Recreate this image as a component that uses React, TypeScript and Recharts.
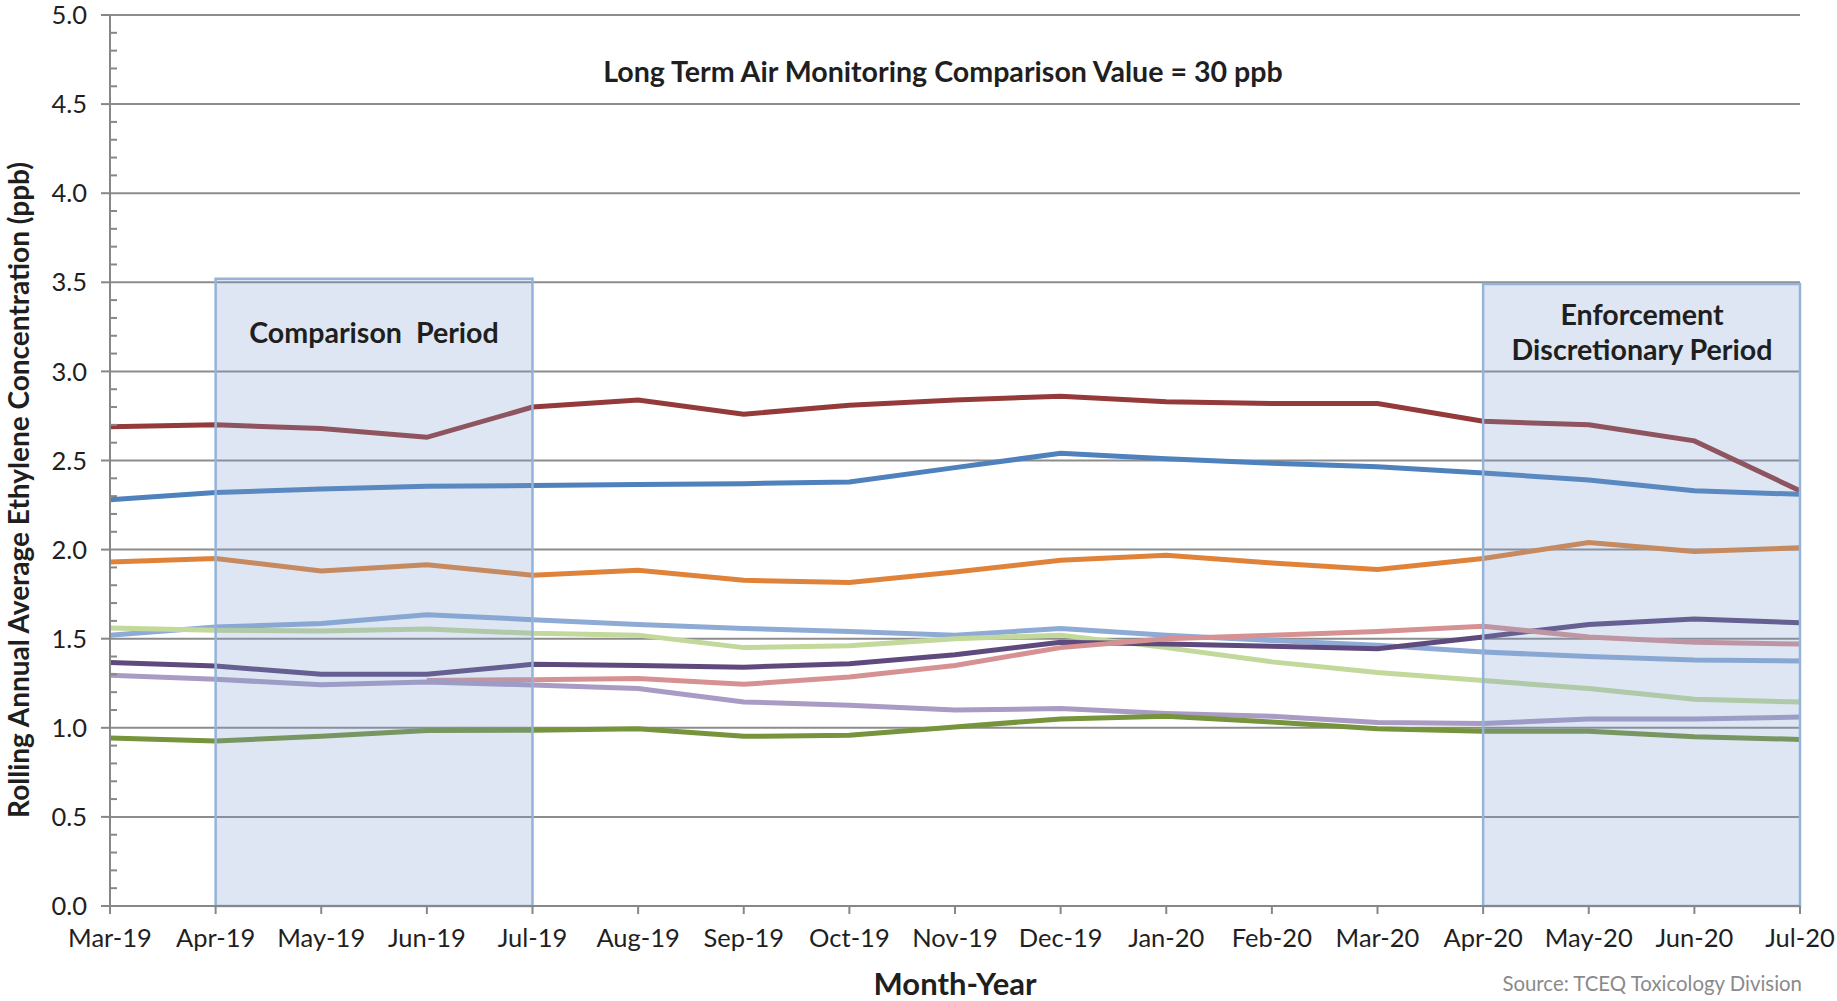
import React from 'react';
import { LineChart, Line, XAxis, YAxis, ReferenceLine, ReferenceArea } from 'recharts';

const months = ["Mar-19","Apr-19","May-19","Jun-19","Jul-19","Aug-19","Sep-19","Oct-19","Nov-19","Dec-19","Jan-20","Feb-20","Mar-20","Apr-20","May-20","Jun-20","Jul-20"];

const darkRed = [2.69, 2.70, 2.68, 2.63, 2.80, 2.84, 2.76, 2.81, 2.84, 2.86, 2.83, 2.82, 2.82, 2.72, 2.70, 2.61, 2.33];
const blue = [2.28, 2.32, 2.34, 2.355, 2.36, 2.365, 2.37, 2.38, 2.46, 2.54, 2.51, 2.485, 2.465, 2.43, 2.39, 2.33, 2.31];
const orange = [1.93, 1.95, 1.88, 1.915, 1.856, 1.884, 1.828, 1.815, 1.874, 1.94, 1.968, 1.925, 1.888, 1.95, 2.04, 1.99, 2.01];
const lightBlue = [1.52, 1.566, 1.585, 1.635, 1.607, 1.58, 1.557, 1.54, 1.52, 1.557, 1.52, 1.49, 1.463, 1.425, 1.40, 1.38, 1.375];
const lightGreen = [1.56, 1.547, 1.543, 1.555, 1.53, 1.52, 1.45, 1.46, 1.50, 1.52, 1.45, 1.37, 1.31, 1.265, 1.22, 1.16, 1.145];
const darkPurple = [1.366, 1.347, 1.30, 1.30, 1.356, 1.35, 1.34, 1.36, 1.41, 1.48, 1.47, 1.457, 1.444, 1.51, 1.58, 1.61, 1.59];
const pink = [null, null, null, 1.266, 1.27, 1.276, 1.244, 1.285, 1.35, 1.45, 1.50, 1.52, 1.54, 1.57, 1.51, 1.48, 1.47];
const lavender = [1.295, 1.272, 1.242, 1.257, 1.24, 1.22, 1.145, 1.126, 1.10, 1.108, 1.08, 1.065, 1.03, 1.024, 1.05, 1.05, 1.06];
const green = [0.943, 0.926, 0.952, 0.985, 0.986, 0.995, 0.952, 0.958, 1.005, 1.05, 1.065, 1.033, 0.995, 0.98, 0.98, 0.95, 0.935];

const majorTicks = [0, 0.5, 1.0, 1.5, 2.0, 2.5, 3.0, 3.5, 4.0, 4.5, 5.0];
const allTicks = [0, 0.1, 0.2, 0.3, 0.4, 0.5, 0.6, 0.7, 0.8, 0.9, 1.0, 1.1, 1.2, 1.3, 1.4, 1.5, 1.6, 1.7, 1.8, 1.9, 2.0,
  2.1, 2.2, 2.3, 2.4, 2.5, 2.6, 2.7, 2.8, 2.9, 3.0, 3.1, 3.2, 3.3, 3.4, 3.5, 3.6, 3.7, 3.8, 3.9, 4.0,
  4.1, 4.2, 4.3, 4.4, 4.5, 4.6, 4.7, 4.8, 4.9, 5.0];

const series = [
  { key: 'darkRed', values: darkRed, color: '#953a3a' },
  { key: 'blue', values: blue, color: '#4f81bd' },
  { key: 'orange', values: orange, color: '#e0833a' },
  { key: 'lightBlue', values: lightBlue, color: '#8eabd6' },
  { key: 'lightGreen', values: lightGreen, color: '#c3d89b' },
  { key: 'darkPurple', values: darkPurple, color: '#5f4a7d' },
  { key: 'pink', values: pink, color: '#d69293' },
  { key: 'lavender', values: lavender, color: '#a99bc4' },
  { key: 'green', values: green, color: '#76943c' },
];

const data = months.map((m, i) => {
  const row: any = { month: m };
  series.forEach(s => { row[s.key] = s.values[i]; });
  return row;
});

const W = 1837;
const H = 1001;
const FONT = "Lato, 'Open Sans', sans-serif";
const TEXT = '#1f1f1f';
const AXIS = '#878787';
const TICK_SIZE = 9;
const TICK_MARGIN = 14;

function YTick(props: any) {
  const { x, y, payload } = props;
  const v = payload.value;
  const axisX = x + TICK_SIZE + TICK_MARGIN;
  const major = majorTicks.some(m => Math.abs(m - v) < 1e-6);
  if (major) {
    return (
      <g>
        <line x1={axisX - TICK_SIZE} x2={axisX} y1={y} y2={y} stroke={AXIS} strokeWidth={2} />
        <text x={x} y={y} dy="0.36em" textAnchor="end" fontSize={25.5} fontFamily={FONT} fill={TEXT}>{v.toFixed(1)}</text>
      </g>
    );
  }
  return <line x1={axisX} x2={axisX + 7} y1={y} y2={y} stroke={AXIS} strokeWidth={2} />;
}

export default function App() {
  return (
    <div style={{ position: 'absolute', left: 0, top: 0, width: W, height: H, background: '#fff' }}>
      <LineChart width={W} height={H} data={data} margin={{ top: 15, right: 37, bottom: 35, left: 0 }}>
        {majorTicks.filter(t => t > 0).map(t => (
          <ReferenceLine key={'g' + t} y={t} stroke="#8c8c8c" strokeWidth={2} ifOverflow="extendDomain" zIndex={-50} />
        ))}
        <XAxis dataKey="month" interval={0} height={60} tickSize={8} tickMargin={15}
          axisLine={{ stroke: AXIS, strokeWidth: 2 }} tickLine={{ stroke: AXIS, strokeWidth: 2 }}
          tick={{ fontSize: 25.5, fill: TEXT, fontFamily: FONT }} />
        <YAxis domain={[0, 5]} ticks={allTicks} interval={0} width={110} tickSize={TICK_SIZE} tickMargin={TICK_MARGIN}
          axisLine={{ stroke: AXIS, strokeWidth: 2 }} tickLine={false} tick={<YTick />} />
        {series.map(s => (
          <Line key={s.key} dataKey={s.key} type="linear" stroke={s.color} strokeWidth={5} dot={false}
            isAnimationActive={false} connectNulls={false} />
        ))}
        <ReferenceArea x1="Apr-19" x2="Jul-19" y1={0} y2={3.52} fill="#7c9dce" fillOpacity={0.26}
          stroke="#95b3d7" strokeWidth={2.5} zIndex={450} />
        <ReferenceArea x1="Apr-20" x2="Jul-20" y1={0} y2={3.49} fill="#7c9dce" fillOpacity={0.26}
          stroke="#95b3d7" strokeWidth={2.5} zIndex={450} />
      </LineChart>
      <svg width={W} height={H} style={{ position: 'absolute', left: 0, top: 0, pointerEvents: 'none' }}>
        <text x={943} y={72} dy="0.35em" textAnchor="middle" fontSize={28.6} fontWeight="bold" fontFamily={FONT} fill={TEXT}>
          Long Term Air Monitoring Comparison Value = 30 ppb
        </text>
        <text x={374} y={333} dy="0.35em" textAnchor="middle" fontSize={28.6} fontWeight="bold" fontFamily={FONT} fill={TEXT} style={{ whiteSpace: 'pre' }}>
          {'Comparison  Period'}
        </text>
        <text x={1642} y={315} dy="0.35em" textAnchor="middle" fontSize={28.6} fontWeight="bold" fontFamily={FONT} fill={TEXT}>
          Enforcement
        </text>
        <text x={1642} y={350} dy="0.35em" textAnchor="middle" fontSize={28.6} fontWeight="bold" fontFamily={FONT} fill={TEXT}>
          Discretionary Period
        </text>
        <text transform="translate(19,490) rotate(-90)" x={0} y={0} dy="0.35em" textAnchor="middle" fontSize={28} fontWeight="bold" fontFamily={FONT} fill={TEXT}>
          Rolling Annual Average Ethylene Concentration (ppb)
        </text>
        <text x={955} y={984} dy="0.35em" textAnchor="middle" fontSize={31} fontWeight="bold" fontFamily={FONT} fill={TEXT}>
          Month-Year
        </text>
        <text x={1802} y={984} dy="0.35em" textAnchor="end" fontSize={20.4} fontFamily={FONT} fill="#8a8a8a">
          Source: TCEQ Toxicology Division
        </text>
      </svg>
    </div>
  );
}
